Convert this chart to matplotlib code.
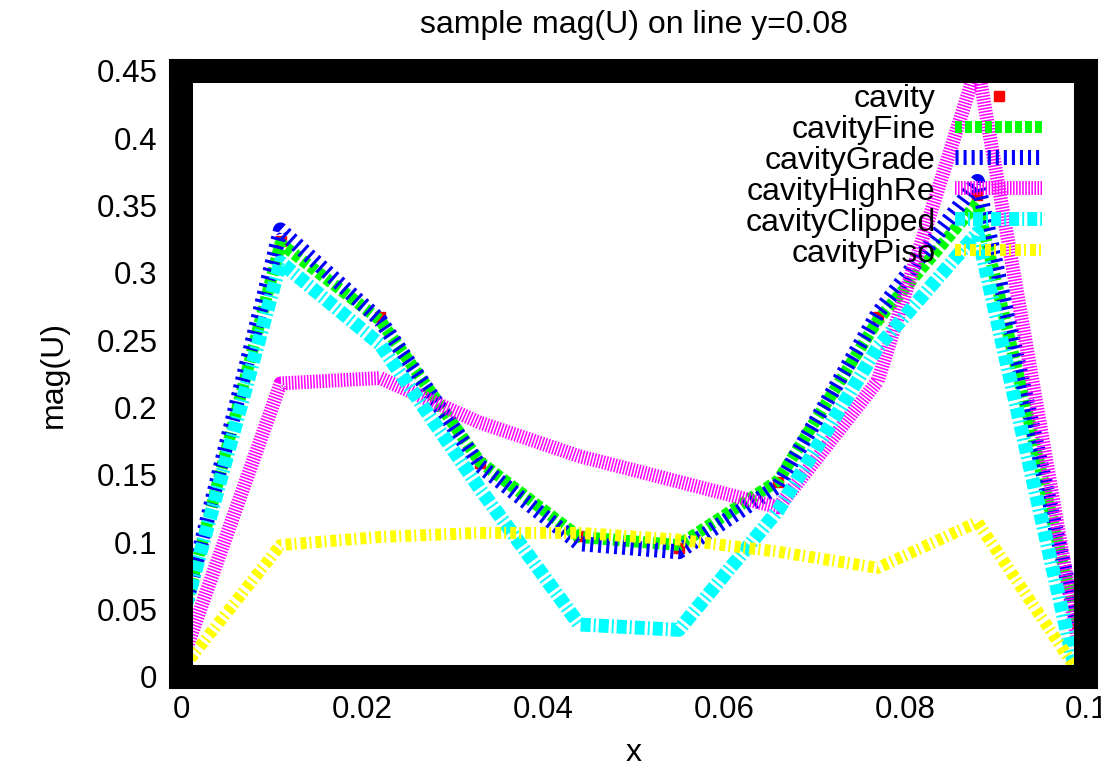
import matplotlib
matplotlib.use('Agg')
import matplotlib.pyplot as plt
from matplotlib.ticker import FuncFormatter

plt.rcParams['font.family'] = ['Liberation Sans', 'DejaVu Sans']
plt.rcParams['lines.scale_dashes'] = False

# sample points along the line y=0.08
x = [0.0, 0.011, 0.022, 0.033, 0.044, 0.055, 0.066, 0.077, 0.088, 0.099]

cavity = [0.04, 0.324, 0.267, 0.159, 0.105, 0.096, 0.145, 0.267, 0.358, 0.04]
cavity_fine = [0.04, 0.322, 0.265, 0.160, 0.104, 0.098, 0.146, 0.265, 0.352, 0.04]
cavity_grade = [0.04, 0.332, 0.265, 0.157, 0.099, 0.093, 0.142, 0.270, 0.368, 0.04]
cavity_highre = [0.01, 0.218, 0.222, 0.189, 0.164, 0.145, 0.126, 0.220, 0.455, 0.03]
cavity_clipped = [0.04, 0.308, 0.247, 0.140, 0.039, 0.035, 0.124, 0.245, 0.330, 0.0]
cavity_piso = [0.005, 0.098, 0.104, 0.107, 0.107, 0.102, 0.093, 0.081, 0.115, 0.005]

series = [
    ('cavityFine', cavity_fine, '#00ff00', 8.6, (5.0, 2.2)),
    ('cavityGrade', cavity_grade, '#0000ff', 10.8, (2.2, 3.6)),
    ('cavityHighRe', cavity_highre, '#ff00ff', 10.0, (1.1, 1.1)),
    ('cavityClipped', cavity_clipped, '#00ffff', 10.0, (7.2, 2.2, 1.4, 2.2)),
    ('cavityPiso', cavity_piso, '#ffff00', 8.6, (4.3, 2.2, 1.4, 2.9)),
]

fig = plt.figure(figsize=(11.01, 7.68), dpi=100)
ax = fig.add_axes([181 / 1101, 91 / 768, 905 / 1101, 606 / 768])

ax.plot(x, cavity, linestyle='none', marker='s', markersize=7,
        color='#ff0000', label='cavity')
for name, vals, col, lw, dash in series:
    ax.plot(x, vals, color=col, linewidth=lw, dashes=dash, label=name)

ax.set_xlim(0, 0.1)
ax.set_ylim(0, 0.45)
ax.set_xticks([0, 0.02, 0.04, 0.06, 0.08, 0.1])
ax.set_yticks([0, 0.05, 0.1, 0.15, 0.2, 0.25, 0.3, 0.35, 0.4, 0.45])
fmt = FuncFormatter(lambda v, p: '%g' % round(v, 4))
ax.xaxis.set_major_formatter(fmt)
ax.yaxis.set_major_formatter(fmt)
ax.tick_params(axis='x', length=0, pad=13, labelsize=22.5)
ax.tick_params(axis='y', length=0, pad=17, labelsize=22.5)

for sp in ax.spines.values():
    sp.set_linewidth(17.3)
    sp.set_color('black')

ax.set_title('sample mag(U) on line y=0.08', fontsize=23, pad=27)
ax.set_xlabel('x', fontsize=23, labelpad=9)
ax.set_ylabel('mag(U)', fontsize=23, labelpad=20)

ax.legend(loc='upper right', bbox_to_anchor=(0.951, 0.979), frameon=False,
          markerfirst=False, fontsize=23, handlelength=2.7, handletextpad=0.62,
          labelspacing=0.03, borderpad=0, borderaxespad=0)

fig.savefig('out.png', dpi=100)
